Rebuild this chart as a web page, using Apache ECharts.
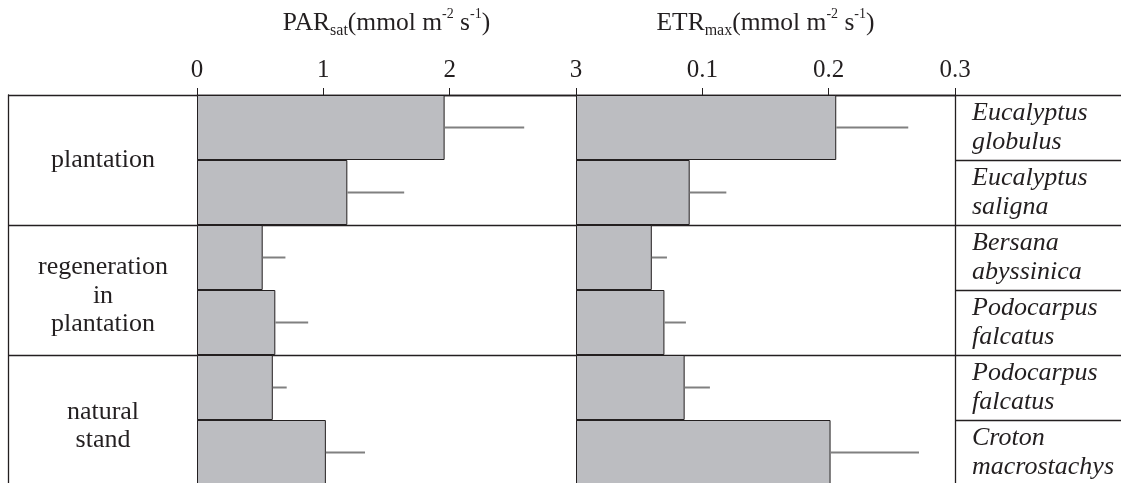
<!DOCTYPE html>
<html>
<head>
<meta charset="utf-8">
<script src="https://cdn.jsdelivr.net/npm/echarts@6/dist/echarts.min.js"></script>
<style>
  html, body { margin: 0; padding: 0; background: #ffffff; }
  #chart { width: 1121px; height: 483px; }
</style>
</head>
<body>
<div id="chart"></div>
<script>
// ---- data ----
const species = ['Eucalyptus\nglobulus', 'Eucalyptus\nsaligna', 'Bersana\nabyssinica',
                 'Podocarpus\nfalcatus', 'Podocarpus\nfalcatus', 'Croton\nmacrostachys'];
const groups = ['plantation', 'regeneration\nin\nplantation', 'natural\nstand'];
const parSat = [1.96, 1.19, 0.52, 0.62, 0.60, 1.02];
const parErr = [0.63, 0.45, 0.18, 0.26, 0.11, 0.31];
const etrMax = [0.206, 0.090, 0.060, 0.070, 0.086, 0.2015];
const etrErr = [0.057, 0.029, 0.012, 0.017, 0.020, 0.070];
const parTicks = [0, 1, 2, 3];
const etrTicks = [0, 0.1, 0.2, 0.3];

// ---- style ----
const FONT = '"Liberation Serif", "Times New Roman", serif';
const INK = '#231f20';
const BAR = '#bcbdc1';
const ERR = '#808080';

const chart = echarts.init(document.getElementById('chart'));

const titleRich = {
  m: { fontFamily: FONT, fontSize: 25.5, color: INK, lineHeight: 32 },
  sub: { fontFamily: FONT, fontSize: 16, color: INK, lineHeight: 16, verticalAlign: 'bottom' },
  sup: { fontFamily: FONT, fontSize: 14, color: INK, lineHeight: 14, verticalAlign: 'top' }
};

function xAxisCfg(gridIndex, ticks, nameStr, fmt) {
  return {
    gridIndex: gridIndex, type: 'value', position: 'top',
    min: ticks[0], max: ticks[ticks.length - 1], interval: ticks[1] - ticks[0],
    axisLine: { show: true, onZero: false, lineStyle: { color: INK, width: 1.3 } },
    axisTick: { show: true, inside: false, length: 7, lineStyle: { color: INK, width: 1 } },
    axisLabel: { fontFamily: FONT, fontSize: 25, color: INK, margin: 12, formatter: fmt },
    splitLine: { show: false },
    name: nameStr, nameLocation: 'middle', nameGap: 56,
    nameTextStyle: { rich: titleRich }
  };
}

function errSeries(xi, yi, vals, errs) {
  return {
    type: 'custom', xAxisIndex: xi, yAxisIndex: yi, z: 5,
    data: vals.map((v, i) => [v, i, errs[i]]),
    encode: { x: 0, y: 1 },
    renderItem: function (params, api) {
      const v = api.value(0), c = api.value(1), e = api.value(2);
      const p0 = api.coord([v, c]);
      const p1 = api.coord([v + e, c]);
      return { type: 'line', shape: { x1: p0[0], y1: p0[1], x2: p1[0], y2: p1[1] },
               style: { stroke: ERR, lineWidth: 2 } };
    }
  };
}

function groupLabel(v) {
  const lines = v.split('\n').map(s => '{t|' + s + '}');
  return lines.length > 1 ? '{gap| }\n' + lines.join('\n') : lines[0];
}

const option = {
  backgroundColor: '#ffffff',
  animation: false,
  grid: [
    { left: 197, width: 379, top: 95, height: 390, outerBoundsMode: 'none', containLabel: false },
    { left: 576, width: 379, top: 95, height: 390, outerBoundsMode: 'none', containLabel: false }
  ],
  xAxis: [
    xAxisCfg(0, parTicks,
      '{m|PAR}{sub|sat}{m|(mmol m}{sup|-2}{m| s}{sup|-1}{m|)}',
      v => String(v)),
    xAxisCfg(1, etrTicks,
      '{m|ETR}{sub|max}{m|(mmol m}{sup|-2}{m| s}{sup|-1}{m|)}',
      v => (v === 0 ? '' : v.toFixed(1)))
  ],
  yAxis: [
    { // 0: species axis for left bars
      gridIndex: 0, type: 'category', data: species, inverse: true, position: 'left',
      axisLine: { show: true, onZero: false, lineStyle: { color: INK, width: 1 } },
      axisTick: { show: false }, axisLabel: { show: false }, splitLine: { show: false }
    },
    { // 1: group axis (labels + left table lines)
      gridIndex: 0, type: 'category', data: groups, inverse: true, position: 'left',
      axisLine: { show: false, onZero: false },
      axisTick: { show: true, inside: false, length: 189, interval: 0, lineStyle: { color: INK, width: 1.3 } },
      axisLabel: { show: true, interval: 0, align: 'center', margin: 94, formatter: groupLabel,
                   rich: {
                     t: { fontFamily: FONT, fontSize: 26, color: INK, lineHeight: 28.5 },
                     gap: { fontSize: 1, lineHeight: 12 }
                   } },
      splitLine: { show: true, interval: 0, lineStyle: { color: INK, width: 1.3 } }
    },
    { // 2: outer left frame line
      gridIndex: 0, type: 'category', data: groups, inverse: true, position: 'left', offset: 189,
      axisLine: { show: true, onZero: false, lineStyle: { color: INK, width: 1.3 } },
      axisTick: { show: false }, axisLabel: { show: false }, splitLine: { show: false }
    },
    { // 3: species axis for right bars (labels on the right)
      gridIndex: 1, type: 'category', data: species, inverse: true, position: 'right',
      axisLine: { show: true, onZero: false, lineStyle: { color: INK, width: 1.3 } },
      axisTick: { show: true, inside: false, length: 166, interval: 0, lineStyle: { color: INK, width: 1.3 } },
      axisLabel: { show: true, interval: 0, align: 'left', margin: 17,
                   fontFamily: FONT, fontStyle: 'italic', fontSize: 26, color: INK, lineHeight: 29,
                   padding: [0, 0, 12, 0],
                   formatter: (v, i) => species[i] },
      splitLine: { show: false }
    },
    { // 4: group lines across right panel
      gridIndex: 1, type: 'category', data: groups, inverse: true, position: 'left',
      axisLine: { show: true, onZero: false, lineStyle: { color: INK, width: 1 } },
      axisTick: { show: false }, axisLabel: { show: false },
      splitLine: { show: true, interval: 0, lineStyle: { color: INK, width: 1.3 } }
    }
  ],
  series: [
    { type: 'bar', xAxisIndex: 0, yAxisIndex: 0, data: parSat, barWidth: '100%', z: 3,
      itemStyle: { color: BAR, borderColor: INK, borderWidth: 1 } },
    errSeries(0, 0, parSat, parErr),
    { type: 'bar', xAxisIndex: 1, yAxisIndex: 3, data: etrMax, barWidth: '100%', z: 3,
      itemStyle: { color: BAR, borderColor: INK, borderWidth: 1 } },
    errSeries(1, 3, etrMax, etrErr)
  ]
};

chart.setOption(option);
</script>
</body>
</html>
